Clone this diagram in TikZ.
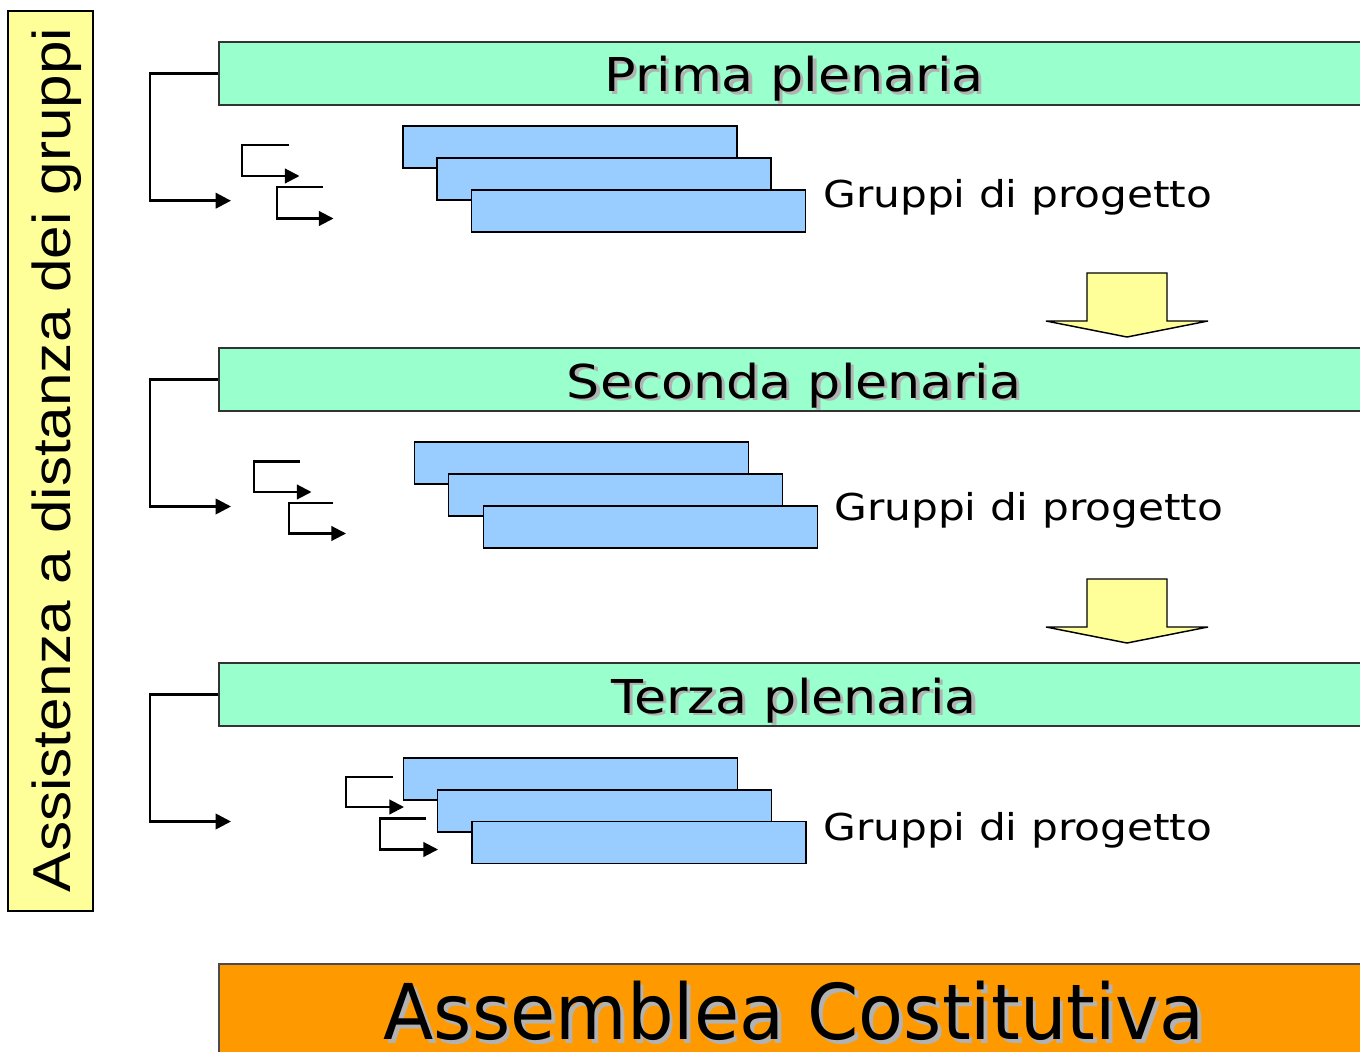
\documentclass[tikz,border=0pt]{standalone}
\usepackage{fontspec}
\setmainfont{DejaVu Sans}
\newfontfamily\arialfont{Liberation Sans}
\usepackage{graphicx}
\usepackage{xcolor}
\usetikzlibrary{arrows.meta}
\definecolor{barGreen}{HTML}{99FFCC}
\definecolor{boxBlue}{HTML}{99CCFF}
\definecolor{paleYellow}{HTML}{FFFF99}
\definecolor{assOrange}{HTML}{FF9900}
\definecolor{shadeGray}{HTML}{B2B2B2}
\newcommand{\shadowed}[3]{\scalebox{#2}[1]{\makebox[0pt][l]{\hspace*{#1}\raisebox{-#1}{\textcolor{shadeGray}{#3}}}#3}}

\begin{document}
\begin{tikzpicture}[x=0.75pt,y=-0.75pt,
bar/.style={draw=black!80,line width=1.1pt,fill=barGreen,minimum width=864.75pt,minimum height=47.25pt,inner sep=0pt},
grp/.style={draw=black,line width=1pt,fill=boxBlue,minimum width=250.5pt,minimum height=31.5pt,inner sep=0pt},
title/.style={anchor=base,inner sep=0pt,font=\fontsize{35}{42}\selectfont},
grplabel/.style={anchor=base west,inner sep=0pt,font=\fontsize{27.75}{33}\selectfont},
bigarr/.style={line width=2pt,-{Triangle[length=11.5pt,width=11.5pt]}},
smallarr/.style={line width=1.6pt,-{Triangle[length=11pt,width=11pt]}},
downarr/.style={draw=black,line width=1.1pt,fill=paleYellow,line join=miter}]
\useasboundingbox (0,0) rectangle (1360,1052);

\node[draw=black,line width=1.1pt,fill=paleYellow,minimum width=63.75pt,minimum height=675pt,inner sep=0pt] (side) at (50.5,461) {};
\node[rotate=90,anchor=base,inner sep=0pt,font=\arialfont\fontsize{40}{48}\selectfont] (sidetext) at (70,460) {\scalebox{1.13}[1]{Assistenza a distanza dei gruppi}};

\node[bar] (p1) at (795.5,73.5) {};
\node[bar] (p2) at (795.5,379.5) {};
\node[bar] (p3) at (795.5,694.5) {};
\node[title] (t1) at (794,92) {\shadowed{2.2pt}{1.12}{Prima plenaria}};
\node[title] (t2) at (794,398) {\shadowed{2.2pt}{1.12}{Seconda plenaria}};
\node[title] (t3) at (794,713) {\shadowed{2.2pt}{1.12}{Terza plenaria}};

\node[grp] (g1a) at (570,147) {};
\node[grp] (g1b) at (604,179) {};
\node[grp] (g1c) at (638.5,211) {};
\node[grplabel] (l1) at (823,208) {\scalebox{1.143}[1]{Gruppi di progetto}};
\node[grp] (g2a) at (581.5,463) {};
\node[grp] (g2b) at (615.5,495) {};
\node[grp] (g2c) at (650.5,527) {};
\node[grplabel] (l2) at (834,520) {\scalebox{1.143}[1]{Gruppi di progetto}};
\node[grp] (g3a) at (570.5,779) {};
\node[grp] (g3b) at (604.5,811) {};
\node[grp] (g3c) at (639,842.5) {};
\node[grplabel] (l3) at (823,840) {\scalebox{1.143}[1]{Gruppi di progetto}};

\coordinate (k1) at (150,200.7); \coordinate (a1) at (231,200.7);
\coordinate (k2) at (150,506.5); \coordinate (a2) at (231,506.5);
\coordinate (k3) at (150,821.5); \coordinate (a3) at (231,821.5);
\draw[bigarr] (p1.west) -| (k1) -- (a1);
\draw[bigarr] (p2.west) -| (k2) -- (a2);
\draw[bigarr] (p3.west) -| (k3) -- (a3);

\coordinate (s1a) at (289,145); \coordinate (e1a) at (299.5,176);
\coordinate (s1b) at (323,187); \coordinate (e1b) at (333.5,218.5);
\coordinate (s2a) at (300,461.5); \coordinate (e2a) at (311.5,492);
\coordinate (s2b) at (333,503); \coordinate (e2b) at (346,533.5);
\coordinate (s3a) at (393,777); \coordinate (e3a) at (404,807);
\coordinate (s3b) at (426,818.5); \coordinate (e3b) at (438,849.5);
\draw[smallarr] (s1a) -- ++(-47,0) |- (e1a);
\draw[smallarr] (s1b) -- ++(-46,0) |- (e1b);
\draw[smallarr] (s2a) -- ++(-46,0) |- (e2a);
\draw[smallarr] (s2b) -- ++(-44,0) |- (e2b);
\draw[smallarr] (s3a) -- ++(-47,0) |- (e3a);
\draw[smallarr] (s3b) -- ++(-46,0) |- (e3b);

\draw[downarr] (1087,273) -- (1167,273) -- (1167,321) -- (1208,321) -- (1127,337) -- (1046,321) -- (1087,321) -- cycle;
\draw[downarr] (1087,579) -- (1167,579) -- (1167,627) -- (1208,627) -- (1127,643) -- (1046,627) -- (1087,627) -- cycle;

\node[draw=black!70,line width=1.1pt,fill=assOrange,minimum width=864.75pt,minimum height=79.5pt,inner sep=0pt] (ac) at (795.5,1017) {};
\node[anchor=base,inner sep=0pt,font=\fontsize{57.7}{66}\selectfont] (actext) at (794,1039) {\shadowed{3pt}{0.955}{Assemblea Costitutiva}};
\end{tikzpicture}
\end{document}
